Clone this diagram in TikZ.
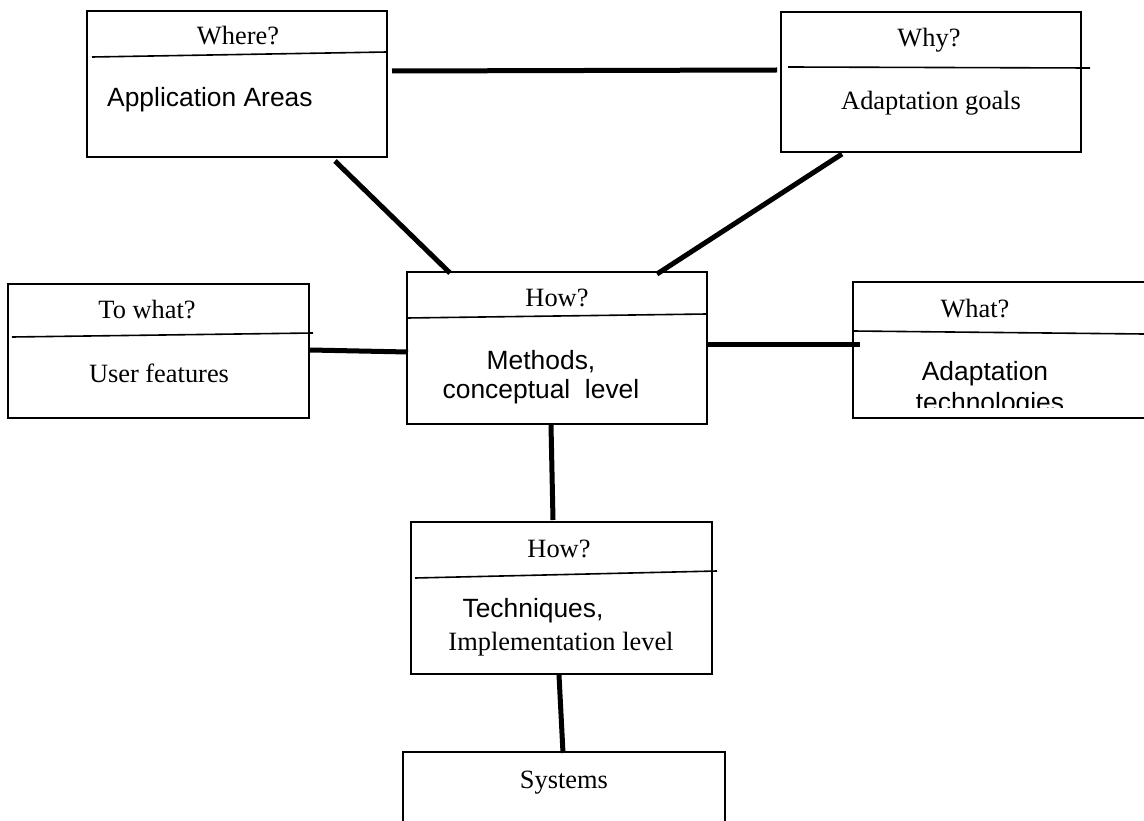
\documentclass[tikz,border=0pt]{standalone}
\usepackage{fontspec}
\setmainfont{Liberation Serif}
\newfontfamily\arialfont{Liberation Sans}
\begin{document}
\begin{tikzpicture}[x=1pt,y=-1pt,
  box/.style={draw,line width=1.7pt,anchor=north west,inner sep=0pt,outer sep=0pt},
  lbl/.style={inner sep=0pt,anchor=base,font=\fontsize{26.4}{30.4}\selectfont},
  sanslbl/.style={inner sep=0pt,anchor=base,font=\fontsize{26.4}{30.4}\selectfont\arialfont},
  divider/.style={line width=1.6pt},
  link/.style={line width=5pt}]
\useasboundingbox (0,0) rectangle (1144,821);
\clip (0,0) rectangle (1144,821);

% boxes
\node[box,minimum width=300pt,minimum height=146pt] (where) at (87,11) {};
\node[box,minimum width=300pt,minimum height=140pt] (why) at (781,12) {};
\node[box,minimum width=301pt,minimum height=134pt] (towhat) at (8,284) {};
\node[box,minimum width=300pt,minimum height=152pt] (how) at (407,272) {};
\node[box,minimum width=310pt,minimum height=136pt] (what) at (853,282) {};
\node[box,minimum width=301pt,minimum height=152pt] (tech) at (411,522) {};
\node[box,minimum width=322pt,minimum height=90pt] (sys) at (403,752) {};

% dividers
\draw[divider] (92,57) -- (387,52);
\draw[divider] (788,67) -- (1090,68);
\draw[divider] (12,337) -- (313,333);
\draw[divider] (407,318) -- (707,314);
\draw[divider] (853,331) -- (1144,334);
\draw[divider] (415,578) -- (717,571);

% texts
\node[lbl] (whereq) at (238,45) {Where?};
\node[sanslbl,anchor=base west] (app) at (107,107) {Application Areas};
\node[lbl] (whyq) at (929,47) {Why?};
\node[lbl] (goals) at (931,110) {Adaptation goals};
\node[lbl] (towhatq) at (147,319) {To what?};
\node[lbl] (userf) at (159,382) {User features};
\node[lbl] (howq) at (557,307) {How?};
\node[sanslbl] (methods) at (541,369) {Methods,};
\node[sanslbl] (concept) at (541,398) {conceptual\ \ level};
\node[lbl] (whatq) at (975,317) {What?};
\node[sanslbl] (adapt) at (985,380) {Adaptation};
\begin{scope}
  \clip (853,385) rectangle (1144,407);
  \node[sanslbl] (technol) at (990,411) {technologies};
\end{scope}
\node[lbl] (techq) at (559,557) {How?};
\node[sanslbl] (techniques) at (533,617) {Techniques,};
\node[lbl] (impl) at (561,650) {Implementation level};
\node[lbl] (systems) at (564,788) {Systems};

% connector ends
\coordinate (a1) at (392,71);   \coordinate (a2) at (777,70);
\coordinate (b1) at (335,161);  \coordinate (b2) at (450,273);
\coordinate (c1) at (842,154);  \coordinate (c2) at (657,274);
\coordinate (d1) at (310,350);  \coordinate (d2) at (408,352);
\coordinate (e1) at (707,344);  \coordinate (e2) at (860,344);
\coordinate (f1) at (551,425);  \coordinate (f2) at (553,520);
\coordinate (g1) at (559,675);  \coordinate (g2) at (563,753);

% connectors
\draw[link] (a1) -- (a2);
\draw[link] (b1) -- (b2);
\draw[link] (c1) -- (c2);
\draw[link] (d1) -- (d2);
\draw[link] (e1) -- (e2);
\draw[link] (f1) -- (f2);
\draw[link] (g1) -- (g2);
\end{tikzpicture}
\end{document}
